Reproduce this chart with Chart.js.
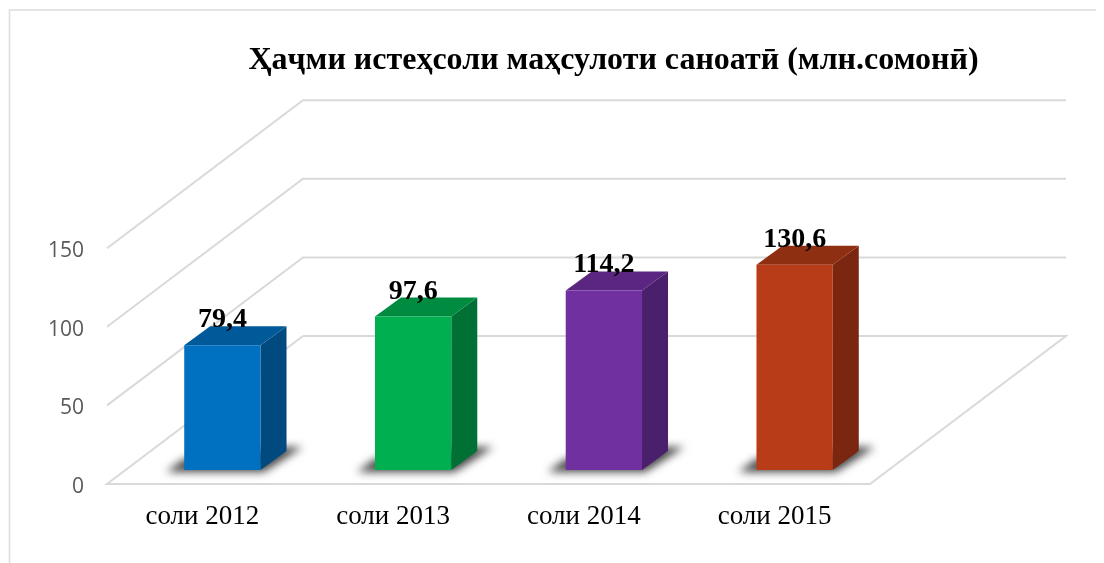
<!DOCTYPE html>
<html>
<head>
<meta charset="utf-8">
<style>html,body{margin:0;padding:0;background:#fff}canvas{display:block}</style>
<script src="https://cdn.jsdelivr.net/npm/chart.js@4"></script>
</head>
<body>
<canvas id="c" width="1104" height="563"></canvas>
<script>
const titleText = 'Ҳаҷми истеҳсоли маҳсулоти саноатӣ (млн.сомонӣ)';
const categories = ['соли 2012', 'соли 2013', 'соли 2014', 'соли 2015'];
const seriesValues = [79.4, 97.6, 114.2, 130.6];
const valueLabels = ['79,4', '97,6', '114,2', '130,6'];
const tickLabels = [0, 50, 100, 150];
const frontColors = ['#0070C0', '#00B050', '#7030A0', '#B83C18'];
const topColors = ['#005A9A', '#008C40', '#5A2682', '#8E2F12'];
const sideColors = ['#004A80', '#007034', '#4A1F6B', '#7A2610'];

const WALL = { dx: 196, dy: 148 };
const BAR_SHIFT = { dx: 20, dy: -14 };
const BAR_DEPTH = { dx: 26, dy: 19 };

function poly(ctx, pts, fill) {
  ctx.beginPath();
  pts.forEach((p, i) => i ? ctx.lineTo(p[0], p[1]) : ctx.moveTo(p[0], p[1]));
  ctx.closePath();
  ctx.fillStyle = fill;
  ctx.fill();
}

const scene3d = {
  id: 'scene3d',
  afterLayout(chart) { chart.titleBlock.left = 123; chart.titleBlock.right = 1104; },
  beforeDraw(chart) {
    const { ctx, scales: { x, y }, chartArea: a } = chart;
    ctx.save();
    ctx.strokeStyle = '#DCDCDC';
    ctx.lineWidth = 1.5;
    ctx.beginPath();
    ctx.moveTo(9.5, 563); ctx.lineTo(9.5, 10); ctx.lineTo(1096, 10);
    ctx.stroke();
    ctx.strokeStyle = '#D9D9D9';
    ctx.lineWidth = 2;
    ctx.lineJoin = 'miter';
    const y0 = y.getPixelForValue(0);
    ctx.beginPath();
    ctx.moveTo(a.left + WALL.dx, y0 - WALL.dy);
    ctx.lineTo(a.left, y0);
    ctx.lineTo(a.right, y0);
    ctx.lineTo(a.right + WALL.dx, y0 - WALL.dy);
    ctx.lineTo(a.left + WALL.dx, y0 - WALL.dy);
    ctx.stroke();
    tickLabels.slice(1).forEach(v => {
      const p = y.getPixelForValue(v);
      ctx.beginPath();
      ctx.moveTo(a.left, p);
      ctx.lineTo(a.left + WALL.dx, p - WALL.dy);
      ctx.lineTo(a.right + WALL.dx, p - WALL.dy);
      ctx.stroke();
    });
    ctx.restore();
  },
  beforeDatasetsDraw(chart) {
    const { ctx } = chart;
    const bars = chart.getDatasetMeta(0).data;
    ctx.save();
    ctx.translate(BAR_SHIFT.dx, BAR_SHIFT.dy);
    bars.forEach((b, i) => {
      const l = b.x - b.width / 2, r = b.x + b.width / 2, t = b.y, bt = b.base;
      ctx.save();
      ctx.filter = 'blur(4px)';
      poly(ctx, [[l - 18, bt + 2], [l, bt - 11], [r + 26, bt - 23], [r + 42, bt - 23], [r + 3, bt + 2]], '#444444');
      ctx.restore();
      poly(ctx, [[r, t], [r + BAR_DEPTH.dx, t - BAR_DEPTH.dy], [r + BAR_DEPTH.dx, bt - BAR_DEPTH.dy], [r, bt]], sideColors[i]);
      poly(ctx, [[l, t], [l + BAR_DEPTH.dx, t - BAR_DEPTH.dy], [r + BAR_DEPTH.dx, t - BAR_DEPTH.dy], [r, t]], topColors[i]);
    });
  },
  afterDatasetsDraw(chart) {
    const { ctx } = chart;
    const bars = chart.getDatasetMeta(0).data;
    ctx.font = 'bold 28px "Liberation Serif"';
    ctx.fillStyle = '#000';
    ctx.textAlign = 'center';
    ctx.textBaseline = 'alphabetic';
    bars.forEach((b, i) => ctx.fillText(valueLabels[i], b.x, b.y - 18));
    ctx.restore();
  }
};

new Chart(document.getElementById('c'), {
  type: 'bar',
  data: {
    labels: categories,
    datasets: [{
      data: seriesValues,
      backgroundColor: frontColors,
      barPercentage: 0.8,
      categoryPercentage: 0.5
    }]
  },
  options: {
    responsive: false,
    animation: false,
    layout: { padding: { left: 0, right: 234, top: 0, bottom: 0 } },
    plugins: {
      legend: { display: false },
      tooltip: { enabled: false },
      title: {
        display: true,
        text: titleText,
        color: '#000',
        font: { family: '"Liberation Serif"', size: 32, weight: 'bold', lineHeight: 1.2 },
        padding: { top: 42, bottom: 10.6 }
      }
    },
    scales: {
      x: {
        grid: { display: false, drawTicks: false },
        border: { display: false },
        ticks: { color: '#000', font: { family: '"Liberation Serif"', size: 27 }, padding: 17, maxRotation: 0 },
        afterFit(s) { s.height = 79; }
      },
      y: {
        min: 0,
        max: 250,
        grid: { display: false, drawTicks: false },
        border: { display: false },
        ticks: {
          stepSize: 50,
          color: '#595959',
          font: { family: '"Open Sans"', size: 21 },
          padding: 23,
          labelOffset: 3,
          callback: v => tickLabels.includes(v) ? String(v) : ''
        },
        afterFit(s) { s.width = 107; }
      }
    }
  },
  plugins: [scene3d]
});
</script>
</body>
</html>
